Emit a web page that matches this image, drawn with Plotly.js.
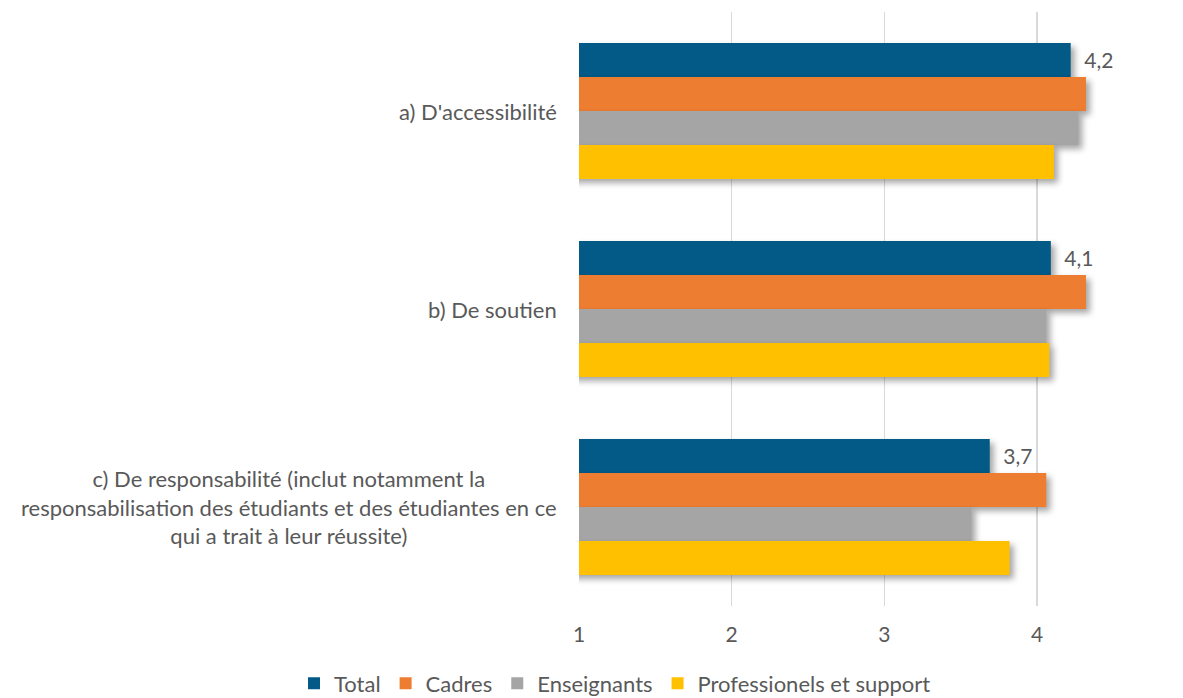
<!DOCTYPE html>
<html>
<head>
<meta charset="utf-8">
<script src="https://cdn.plot.ly/plotly-3.0.1.min.js"></script>
<style>
html,body{margin:0;padding:0;background:#fff;overflow:hidden;width:1183px;height:698px;}
#wrap{width:1183px;height:698px;overflow:hidden;}
#chart{width:1300px;height:698px;}
.trace.bars .point path{filter:drop-shadow(4px 4px 3px rgba(0,0,0,0.35));}
</style>
</head>
<body>
<div id="wrap"><div id="chart"></div></div>
<script>
const categories = [
  "a) D'accessibilité",
  "b) De soutien",
  "c) De responsabilité (inclut notamment la<br>responsabilisation des étudiants et des étudiantes en ce<br>qui a trait à leur réussite)"
];
const seriesNames = ["Total", "Cadres", "Enseignants", "Professionels et support"];
const totalValues = [4.22, 4.09, 3.69];
const cadresValues = [4.32, 4.32, 4.06];
const enseignantsValues = [4.27, 4.06, 3.57];
const professionelsValues = [4.11, 4.08, 3.82];
const totalLabels = ["4,2", "4,1", "3,7"];
const xTickValues = [1, 2, 3, 4];
const xTickLabels = ["1", "2", "3", "4"];

const colors = ["#035A86", "#ED7D31", "#A5A5A5", "#FFC000"];
const allValues = [totalValues, cadresValues, enseignantsValues, professionelsValues];
const FONT = "Lato, Calibri, sans-serif";
const TEXT = "#595959";
const FS = 22;
const W = 1300;

const catIdx = categories.map((c, i) => i);

const traces = allValues.map((vals, k) => {
  const t = {
    type: 'bar',
    orientation: 'h',
    name: seriesNames[k],
    y: catIdx,
    x: vals,
    marker: {color: colors[k], line: {width: 0}},
    hoverinfo: 'x+name'
  };
  if (k === 0) {
    t.text = totalLabels.map(s => '\u2002' + s);
    t.textposition = 'outside';
    t.textfont = {family: FONT, size: FS - 1, color: TEXT};
    t.cliponaxis = false;
  } else {
    t.textposition = 'none';
  }
  return t;
});

const annotations = categories.map((c, i) => ({
  xref: 'paper', yref: 'y',
  x: 0, y: i,
  xanchor: 'right', yanchor: 'middle',
  xshift: -20,
  align: 'center',
  showarrow: false,
  text: c,
  font: {family: FONT, size: FS, color: TEXT}
}));

const layout = {
  width: W, height: 698,
  margin: {l: 579, r: 0, t: 12, b: 92, pad: 0},
  paper_bgcolor: '#fff', plot_bgcolor: '#fff',
  barmode: 'group',
  bargap: 0.313,
  bargroupgap: 0,
  showlegend: true,
  legend: {
    orientation: 'h',
    xref: 'container', yref: 'container',
    x: 615 / W, y: 0.021, xanchor: 'center', yanchor: 'middle',
    font: {family: FONT, size: FS, color: TEXT},
    bgcolor: 'rgba(0,0,0,0)',
    traceorder: 'normal'
  },
  xaxis: {
    range: [1, 1 + (W - 579) / 152.7],
    tickvals: xTickValues,
    ticktext: xTickLabels,
    showgrid: true,
    gridcolor: '#d9d9d9',
    gridwidth: 1.5,
    zeroline: false,
    showline: false,
    ticks: '',
    ticklabelstandoff: 14,
    tickfont: {family: FONT, size: FS - 1, color: TEXT},
    fixedrange: true
  },
  yaxis: {
    range: [2.5, -0.5],
    showticklabels: false,
    showgrid: false,
    zeroline: false,
    showline: false,
    ticks: '',
    fixedrange: true
  },
  annotations: annotations,
  font: {family: FONT, color: TEXT}
};

Plotly.newPlot('chart', traces, layout, {displayModeBar: false, staticPlot: true});
</script>
</body>
</html>
